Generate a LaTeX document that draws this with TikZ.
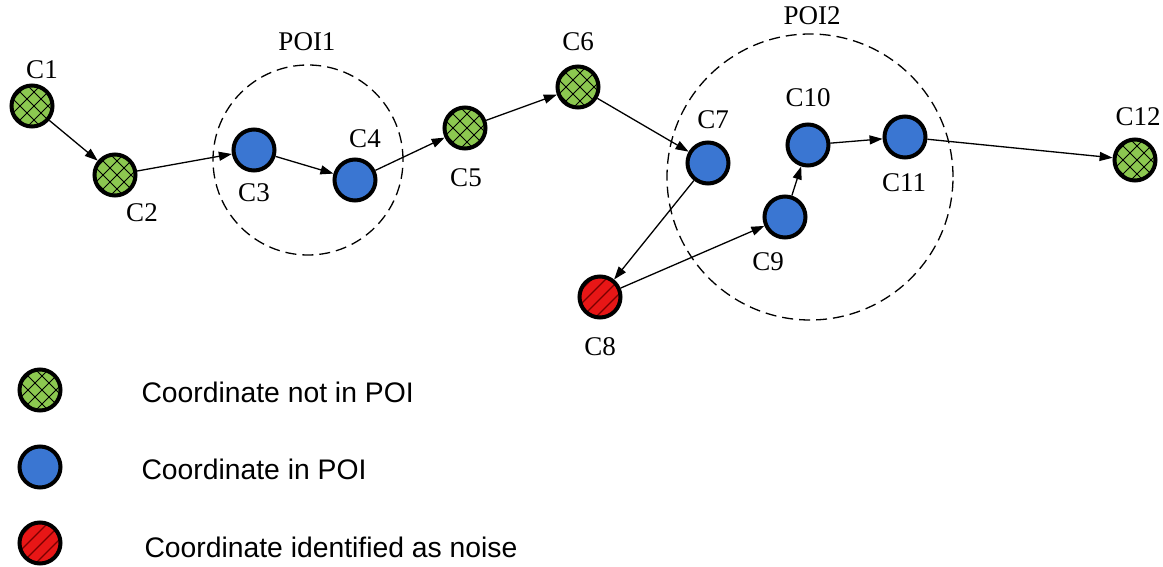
\documentclass[tikz,border=0pt]{standalone}
\usepackage{fontspec}
\setmainfont{Liberation Serif}
\newfontfamily\legendfont{Liberation Sans}
\usetikzlibrary{arrows.meta}
\definecolor{grn}{RGB}{140,200,80}
\definecolor{blu}{RGB}{58,118,210}
\definecolor{rd}{RGB}{232,22,22}
\definecolor{rdline}{RGB}{120,0,0}
\tikzset{
  base/.style={circle, draw=black, line width=4pt, minimum size=41pt, inner sep=0pt},
  ptout/.style={base, fill=grn, path picture={
      \foreach \d in {-56,-42,...,56} {
        \draw[black, line width=0.8pt] ([shift={(\d pt,-30pt)}]path picture bounding box.center) -- ++(60pt,60pt);
        \draw[black, line width=0.8pt] ([shift={(\d pt,30pt)}]path picture bounding box.center) -- ++(60pt,-60pt);
      }}},
  ptin/.style={base, fill=blu},
  ptnoise/.style={base, fill=rd, path picture={
      \foreach \d in {-56,-42,...,56} {
        \draw[rdline, line width=1.3pt] ([shift={(\d pt,-30pt)}]path picture bounding box.center) -- ++(60pt,60pt);
      }}},
  lbl/.style={font=\fontsize{27}{29}\selectfont},
  leg/.style={font=\legendfont\fontsize{28.3}{31}\selectfont, anchor=west},
  arr/.style={-{Triangle[length=13pt,width=9pt]}, line width=1.3pt},
  poi/.style={draw, dash pattern=on 11pt off 6pt, line width=1.3pt},
}
\begin{document}
\begin{tikzpicture}[x=1pt,y=-1pt]
\useasboundingbox (0,0) rectangle (1163,567);
% POI circles
\draw[poi] (308,160) circle[radius=95pt];
\draw[poi] (810,177) circle[radius=143pt];
\node[lbl] (lpoi1) at (307,42) {POI1};
\node[lbl] (lpoi2) at (812,16) {POI2};
% points
\node[ptout] (c1) at (32,106) {};
\node[ptout] (c2) at (115,175) {};
\node[ptin] (c3) at (254,150) {};
\node[ptin] (c4) at (355,180) {};
\node[ptout] (c5) at (465,128) {};
\node[ptout] (c6) at (578,87) {};
\node[ptin] (c7) at (708,163) {};
\node[ptnoise] (c8) at (600,297) {};
\node[ptin] (c9) at (785,217) {};
\node[ptin] (c10) at (808,145) {};
\node[ptin] (c11) at (905,137) {};
\node[ptout] (c12) at (1135,160) {};
% labels
\node[lbl] (l1) at (42,70) {C1};
\node[lbl] (l2) at (142,213) {C2};
\node[lbl] (l3) at (254,193) {C3};
\node[lbl] (l4) at (365,139) {C4};
\node[lbl] (l5) at (466,178) {C5};
\node[lbl] (l6) at (578,42) {C6};
\node[lbl] (l7) at (713,120) {C7};
\node[lbl] (l8) at (600,347) {C8};
\node[lbl] (l9) at (768,262) {C9};
\node[lbl] (l10) at (808,98) {C10};
\node[lbl] (l11) at (904,183) {C11};
\node[lbl] (l12) at (1138,117) {C12};
% connectors
\draw[arr] (c1) -- (c2);
\draw[arr] (c2) -- (c3);
\draw[arr] (c3) -- (c4);
\draw[arr] (c4) -- (c5);
\draw[arr] (c5) -- (c6);
\draw[arr] (c6) -- (c7);
\draw[arr] (c7) -- (c8);
\draw[arr] (c8) -- (c9);
\draw[arr] (c9) -- (c10);
\draw[arr] (c10) -- (c11);
\draw[arr] (c11) -- (c12);
% legend
\node[ptout] (k1) at (40,390) {};
\node[ptin] (k2) at (40,467) {};
\node[ptnoise] (k3) at (40,543) {};
\node[leg] (t1) at (138,392) {Coordinate not in POI};
\node[leg] (t2) at (138,469) {Coordinate in POI};
\node[leg] (t3) at (141,547) {Coordinate identified as noise};
\end{tikzpicture}
\end{document}
